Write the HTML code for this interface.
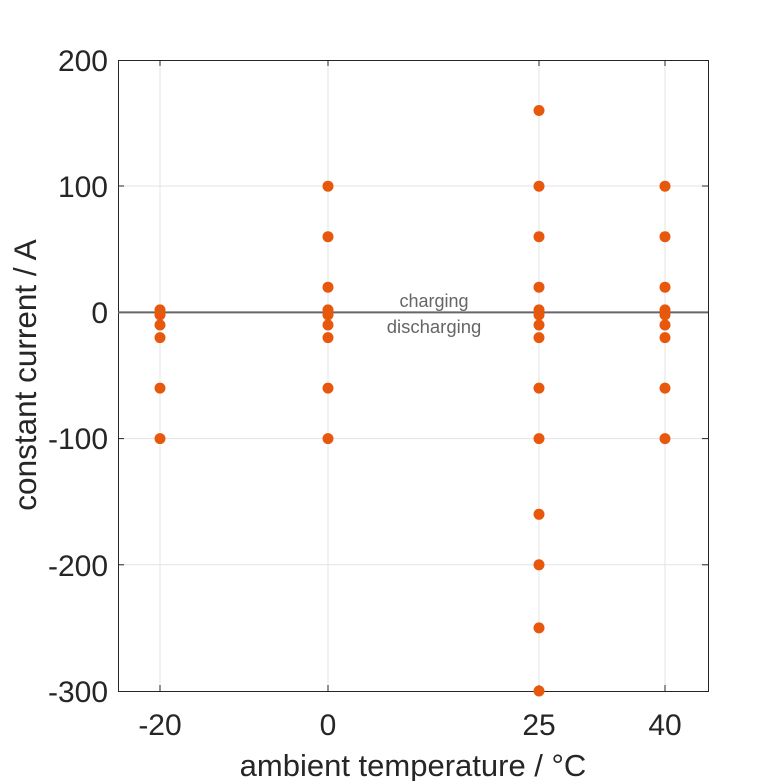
<!DOCTYPE html>
<html><head><meta charset="utf-8"><style>body{margin:0;background:#fff}svg{display:block}</style></head>
<body>
<svg width="781" height="781" xmlns="http://www.w3.org/2000/svg" font-family="Liberation Sans, Arial, sans-serif">
<rect x="0" y="0" width="781" height="781" fill="#fff"/>
<g stroke="#e3e3e3" stroke-width="1">
<line x1="160" y1="60" x2="160" y2="691"/><line x1="328" y1="60" x2="328" y2="691"/>
<line x1="539" y1="60" x2="539" y2="691"/><line x1="665" y1="60" x2="665" y2="691"/>
<line x1="118" y1="186" x2="708" y2="186"/><line x1="118" y1="438.6" x2="708" y2="438.6"/>
<line x1="118" y1="564.8" x2="708" y2="564.8"/>
</g>
<rect x="118.5" y="60.5" width="590" height="631" fill="none" stroke="#262626" stroke-width="1"/>
<g stroke="#262626">
<line x1="160" y1="691" x2="160" y2="685"/><line x1="328" y1="691" x2="328" y2="685"/><line x1="539" y1="691" x2="539" y2="685"/><line x1="665" y1="691" x2="665" y2="685"/>
<line x1="160" y1="60" x2="160" y2="66"/><line x1="328" y1="60" x2="328" y2="66"/><line x1="539" y1="60" x2="539" y2="66"/><line x1="665" y1="60" x2="665" y2="66"/>
<line x1="118" y1="186" x2="124" y2="186"/><line x1="118" y1="438.6" x2="124" y2="438.6"/><line x1="118" y1="564.8" x2="124" y2="564.8"/>
<line x1="708" y1="186" x2="702" y2="186"/><line x1="708" y1="438.6" x2="702" y2="438.6"/><line x1="708" y1="564.8" x2="702" y2="564.8"/>
</g>
<line x1="118" y1="312.4" x2="708" y2="312.4" stroke="#666" stroke-width="2"/>
<text x="434" y="307" font-size="18" fill="#666" text-anchor="middle">charging</text>
<text x="434" y="333" font-size="18.5" fill="#666" text-anchor="middle">discharging</text>
<g fill="#262626" font-size="30" text-anchor="end">
<text x="108" y="71">200</text><text x="108" y="197">100</text><text x="108" y="323">0</text>
<text x="108" y="449">-100</text><text x="108" y="576">-200</text><text x="108" y="702">-300</text>
</g>
<g fill="#262626" font-size="30" text-anchor="middle">
<text x="160" y="735">-20</text><text x="328" y="735">0</text><text x="539" y="735">25</text><text x="665" y="735">40</text>
<text x="413" y="776" font-size="31">ambient temperature / °C</text>
<text transform="translate(36,375) rotate(-90)" font-size="31.5">constant current / A</text>
</g>
<g fill="#e8580c">
<circle cx="160" cy="309.9" r="5.5"/><circle cx="160" cy="314.9" r="5.5"/><circle cx="160" cy="325" r="5.5"/><circle cx="160" cy="337.6" r="5.5"/><circle cx="160" cy="388.1" r="5.5"/><circle cx="160" cy="438.6" r="5.5"/>
<circle cx="328" cy="186.2" r="5.5"/><circle cx="328" cy="236.7" r="5.5"/><circle cx="328" cy="287.2" r="5.5"/><circle cx="328" cy="309.9" r="5.5"/><circle cx="328" cy="314.9" r="5.5"/><circle cx="328" cy="325" r="5.5"/><circle cx="328" cy="337.6" r="5.5"/><circle cx="328" cy="388.1" r="5.5"/><circle cx="328" cy="438.6" r="5.5"/>
<circle cx="539" cy="110.5" r="5.5"/><circle cx="539" cy="186.2" r="5.5"/><circle cx="539" cy="236.7" r="5.5"/><circle cx="539" cy="287.2" r="5.5"/><circle cx="539" cy="309.9" r="5.5"/><circle cx="539" cy="314.9" r="5.5"/><circle cx="539" cy="325" r="5.5"/><circle cx="539" cy="337.6" r="5.5"/><circle cx="539" cy="388.1" r="5.5"/><circle cx="539" cy="438.6" r="5.5"/><circle cx="539" cy="514.3" r="5.5"/><circle cx="539" cy="564.8" r="5.5"/><circle cx="539" cy="627.9" r="5.5"/><circle cx="539" cy="691" r="5.5"/>
<circle cx="665" cy="186.2" r="5.5"/><circle cx="665" cy="236.7" r="5.5"/><circle cx="665" cy="287.2" r="5.5"/><circle cx="665" cy="309.9" r="5.5"/><circle cx="665" cy="314.9" r="5.5"/><circle cx="665" cy="325" r="5.5"/><circle cx="665" cy="337.6" r="5.5"/><circle cx="665" cy="388.1" r="5.5"/><circle cx="665" cy="438.6" r="5.5"/>
</g>
</svg>
</body></html>
